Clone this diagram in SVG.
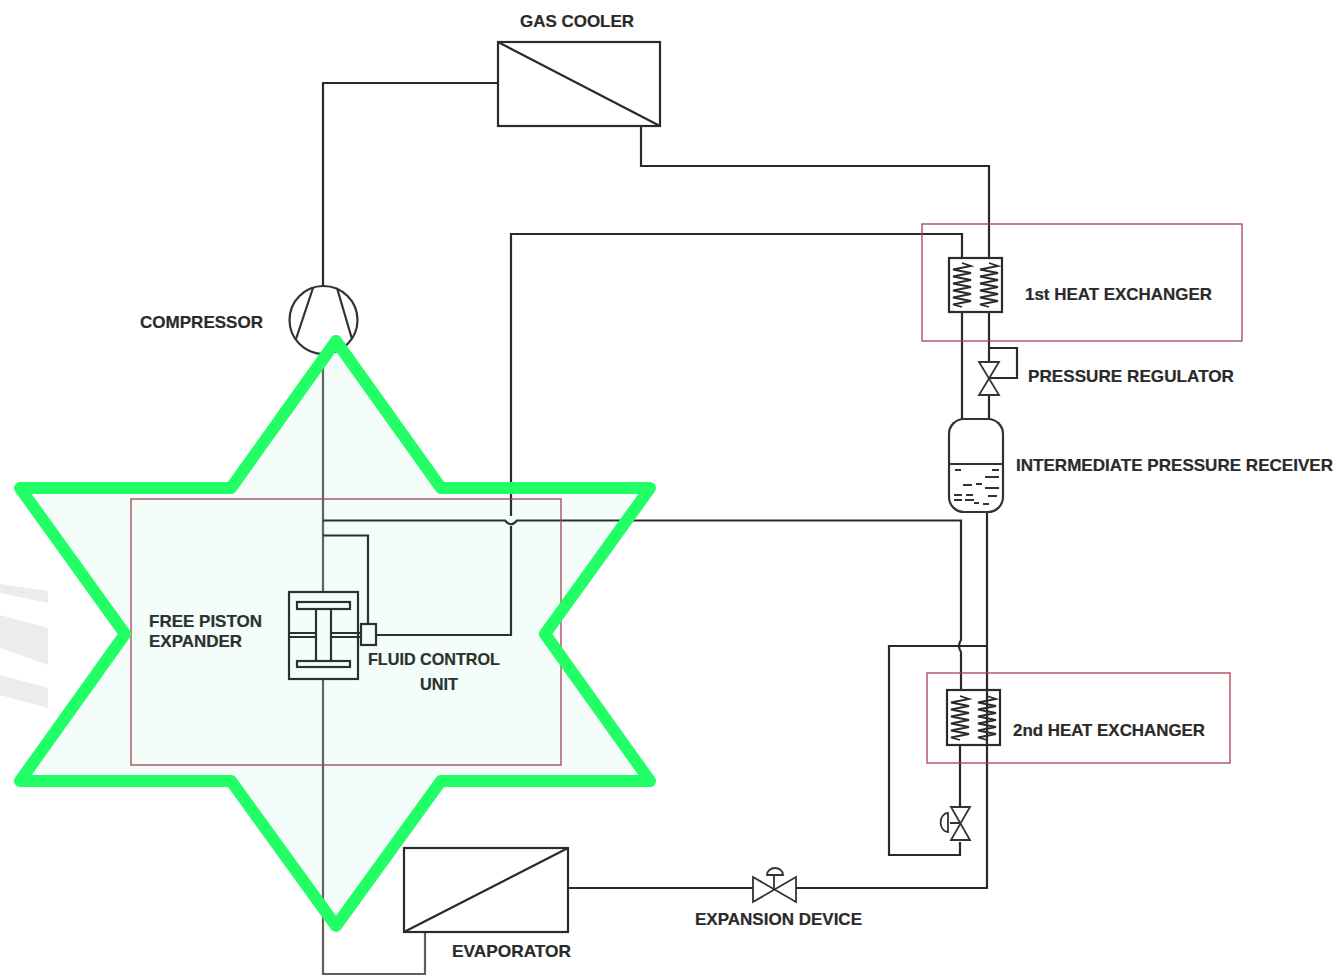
<svg xmlns="http://www.w3.org/2000/svg" width="1334" height="975" viewBox="0 0 1334 975">
<style>
.l{fill:none;stroke:#2a2a2a;stroke-width:2.200}
.s{fill:none;stroke:#333;stroke-width:2.200}
.c{fill:none;stroke:#2a2a2a;stroke-width:1.800}
.r{fill:none;stroke:#a8404f;stroke-width:1.300}
.d{fill:none;stroke:#333;stroke-width:1.800}
text{font-family:"Liberation Sans",Arial,sans-serif;font-weight:700;font-size:17px;fill:#2a2a2a;stroke:#2a2a2a;stroke-width:.2}
</style>
<defs>
<path id="coil" class="c" d="M0 0 L9 3 L-9 6.500 L9 10 L-9 13.500 L9 17 L-9 20.500 L9 24 L-9 27.500 L9 31 L-9 34.500 L9 38 L-9 41.500 L0 44"/>
</defs>
<rect width="1334" height="975" fill="#fff"/>
<g id="watermark" fill="#ececec">
<polygon points="0,584 48,591 48,603 0,593"/>
<polygon points="0,615 48,628 48,665 0,648"/>
<polygon points="0,675 48,688 48,708 0,695"/>
</g>
<g id="connectors">
<path class="l" d="M498 83H323V286"/>
<path class="l" stroke-opacity=".75" d="M323 354V592M323 679V974H425V932"/>
<path class="l" d="M641 126V166H989V258"/>
<path class="l" d="M376 635H511V526M511 516V234H962V258"/>
<path class="l" d="M323 520.500H505Q511 528 517 520.500H961V640Q957 646 961 652V690"/>
<path class="l" d="M323 535.500H368V624"/>
<path class="l" d="M962 312V419M989 312V361M989 395V419"/>
<path class="l" d="M989 348H1017V378H989"/>
<path class="l" d="M987 512V888H796M753 888H568"/>
<path class="l" d="M987 646H889V855H960V842M960 745V807"/>
</g>
<g id="gas-cooler">
<rect class="l" x="498" y="42" width="162" height="84"/>
<path class="l" d="M498 42L660 126"/>
<text x="520" y="27" textLength="114" lengthAdjust="spacingAndGlyphs">GAS COOLER</text>
</g>
<g id="compressor">
<circle class="s" cx="323.500" cy="320" r="34"/>
<path class="s" d="M313 288L296 339M337 288L352 339"/>
<text x="140" y="328" textLength="123" lengthAdjust="spacingAndGlyphs">COMPRESSOR</text>
</g>
<g id="heat-exchanger-1">
<rect class="r" x="922" y="224" width="320" height="117"/>
<rect class="l" x="949" y="258" width="53" height="54"/>
<use href="#coil" x="962" y="263"/>
<use href="#coil" x="989" y="263"/>
<text x="1025" y="300" textLength="187" lengthAdjust="spacingAndGlyphs">1st HEAT EXCHANGER</text>
</g>
<g id="pressure-regulator">
<path class="d" d="M979 362H999L979 395H999Z"/>
<text x="1028" y="382" textLength="206" lengthAdjust="spacingAndGlyphs">PRESSURE REGULATOR</text>
</g>
<g id="receiver">
<rect class="s" x="949" y="419" width="54" height="93" rx="15"/>
<path class="s" d="M949 464H1003"/>
<path class="d" d="M955 470H961M992 470H999M985 477H999M963 485H972M976 484H982M985 488H999M954 495H962M966 495H973M988 496H997M954 500H962M965 500H974M974 503H979M983 504H989"/>
<text x="1016" y="471" textLength="317" lengthAdjust="spacingAndGlyphs">INTERMEDIATE PRESSURE RECEIVER</text>
</g>
<g id="heat-exchanger-2">
<rect class="r" x="927" y="673" width="303" height="90"/>
<rect class="l" x="947" y="690" width="53" height="55"/>
<use href="#coil" x="960" y="696"/>
<use href="#coil" x="987" y="696"/>
<text x="1013" y="736" textLength="192" lengthAdjust="spacingAndGlyphs">2nd HEAT EXCHANGER</text>
</g>
<g id="valve-2">
<path class="d" d="M951 807H970L951 840H970Z"/>
<path class="d" d="M960 823H950M948 813A7 9 0 0 0 948 832Z"/>
</g>
<g id="expansion-device">
<path class="d" d="M753 877V902L796 877V902Z"/>
<path class="d" d="M774 890V875M767 875H783A8 7 0 0 0 767 875Z"/>
<text x="695" y="925" textLength="167" lengthAdjust="spacingAndGlyphs">EXPANSION DEVICE</text>
</g>
<g id="evaporator">
<rect class="l" x="404" y="848" width="164" height="84"/>
<path class="l" d="M404 932L568 848"/>
<text x="452" y="957" textLength="119" lengthAdjust="spacingAndGlyphs">EVAPORATOR</text>
</g>
<g id="free-piston-expander">
<rect class="r" x="131" y="499" width="430" height="266"/>
<rect class="l" x="289" y="592" width="69" height="87"/>
<rect class="l" x="297" y="602" width="53" height="7"/>
<rect class="l" x="297" y="661" width="53" height="6"/>
<path class="l" d="M316 609V661M331 609V661M289 633H316M289 637H316M331 633H361M331 637H361"/>
<text x="149" y="627" textLength="113" lengthAdjust="spacingAndGlyphs">FREE PISTON</text>
<text x="149" y="647" textLength="93" lengthAdjust="spacingAndGlyphs">EXPANDER</text>
</g>
<g id="fluid-control-unit">
<rect class="l" x="361" y="624" width="15" height="21"/>
<text x="368" y="665" textLength="132" lengthAdjust="spacingAndGlyphs">FLUID CONTROL</text>
<text x="420" y="690" textLength="38" lengthAdjust="spacingAndGlyphs">UNIT</text>
</g>
<path id="star" d="M336 341L441 488H650L545 634L650 781H441L336 926L231 781H20L125 634L20 488H231Z" fill="#1fd98a" fill-opacity=".05" stroke="#22ff66" stroke-width="12" stroke-linejoin="round"/>
</svg>
